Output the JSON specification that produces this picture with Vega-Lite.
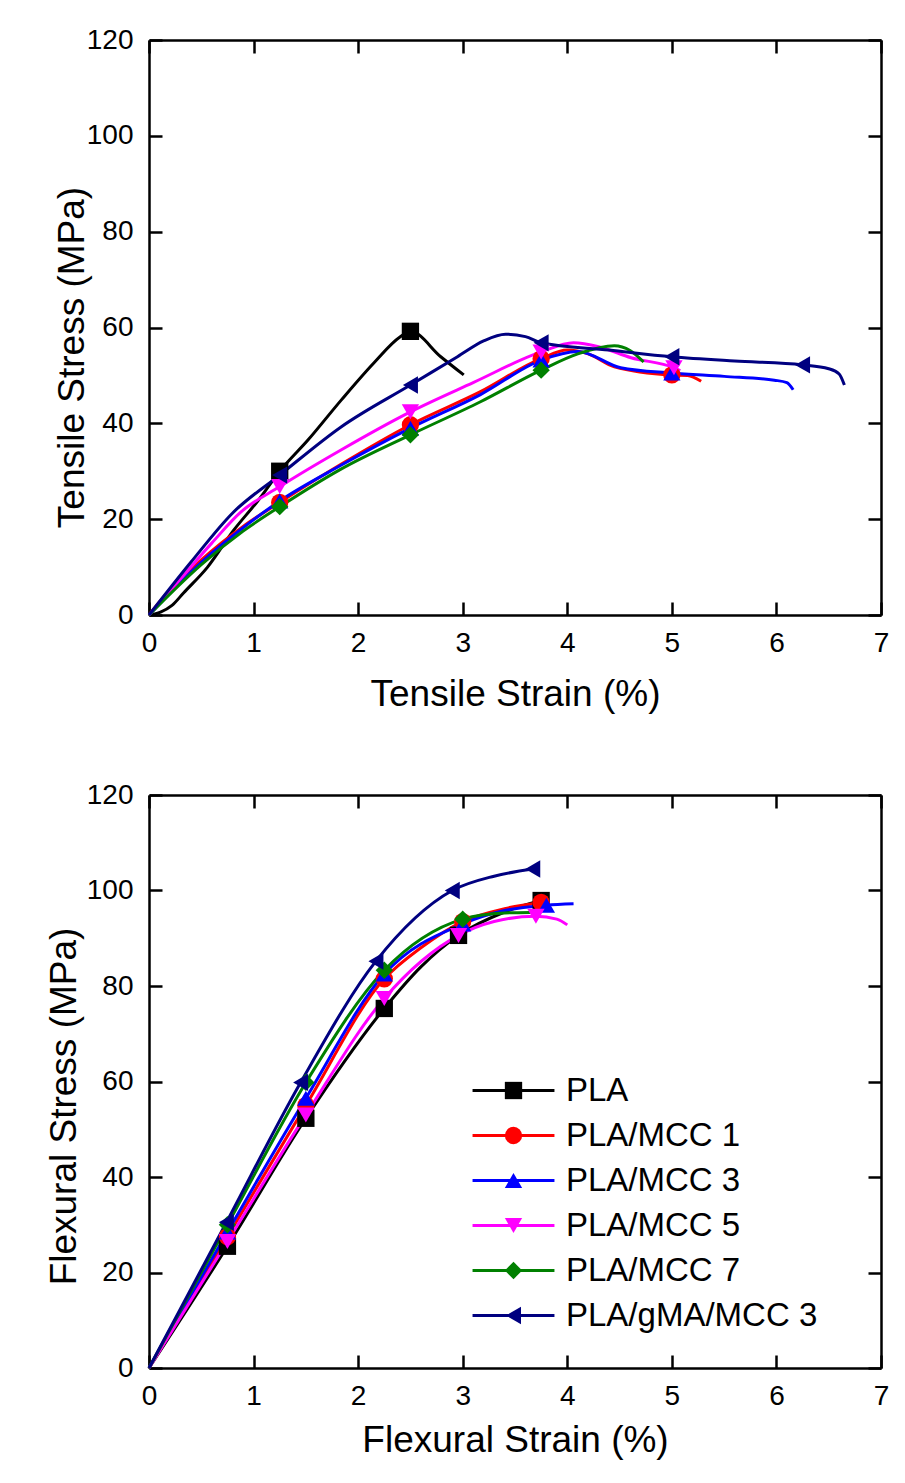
{
  "$schema": "https://vega.github.io/schema/vega-lite/v6.json",
  "background": "white",
  "padding": {"left": 45, "top": 26, "right": 5, "bottom": 5},
  "spacing": 180,
  "bounds": "flush",
  "datasets": {
    "d": [
      {"p":"T","s":"PLA","x":0,"y":0,"m":0},
      {"p":"T","s":"PLA","x":0.11,"y":0.6,"m":0},
      {"p":"T","s":"PLA","x":0.22,"y":2,"m":0},
      {"p":"T","s":"PLA","x":0.33,"y":4.6,"m":0},
      {"p":"T","s":"PLA","x":0.56,"y":10,"m":0},
      {"p":"T","s":"PLA","x":0.81,"y":17.7,"m":0},
      {"p":"T","s":"PLA","x":1.04,"y":23.8,"m":0},
      {"p":"T","s":"PLA","x":1.25,"y":30,"m":1},
      {"p":"T","s":"PLA","x":1.52,"y":36.5,"m":0},
      {"p":"T","s":"PLA","x":1.84,"y":44.9,"m":0},
      {"p":"T","s":"PLA","x":2.15,"y":52.6,"m":0},
      {"p":"T","s":"PLA","x":2.4,"y":58,"m":0},
      {"p":"T","s":"PLA","x":2.5,"y":59.2,"m":1},
      {"p":"T","s":"PLA","x":2.79,"y":53.9,"m":0},
      {"p":"T","s":"PLA","x":3.01,"y":50.1,"m":0},

      {"p":"T","s":"PLA/MCC 1","x":0,"y":0,"m":0},
      {"p":"T","s":"PLA/MCC 1","x":0.11,"y":3,"m":0},
      {"p":"T","s":"PLA/MCC 1","x":0.5,"y":11.5,"m":0},
      {"p":"T","s":"PLA/MCC 1","x":0.9,"y":18.5,"m":0},
      {"p":"T","s":"PLA/MCC 1","x":1.25,"y":23.5,"m":1},
      {"p":"T","s":"PLA/MCC 1","x":1.84,"y":31.5,"m":0},
      {"p":"T","s":"PLA/MCC 1","x":2.5,"y":39.7,"m":1},
      {"p":"T","s":"PLA/MCC 1","x":3.17,"y":46.6,"m":0},
      {"p":"T","s":"PLA/MCC 1","x":3.75,"y":53.5,"m":1},
      {"p":"T","s":"PLA/MCC 1","x":4.0,"y":55.3,"m":0},
      {"p":"T","s":"PLA/MCC 1","x":4.2,"y":54.5,"m":0},
      {"p":"T","s":"PLA/MCC 1","x":4.45,"y":51.8,"m":0},
      {"p":"T","s":"PLA/MCC 1","x":5.0,"y":50.1,"m":1},
      {"p":"T","s":"PLA/MCC 1","x":5.15,"y":50,"m":0},
      {"p":"T","s":"PLA/MCC 1","x":5.28,"y":48.8,"m":0},

      {"p":"T","s":"PLA/MCC 3","x":0,"y":0,"m":0},
      {"p":"T","s":"PLA/MCC 3","x":0.5,"y":11,"m":0},
      {"p":"T","s":"PLA/MCC 3","x":0.9,"y":18.2,"m":0},
      {"p":"T","s":"PLA/MCC 3","x":1.25,"y":23.8,"m":1},
      {"p":"T","s":"PLA/MCC 3","x":1.84,"y":31.3,"m":0},
      {"p":"T","s":"PLA/MCC 3","x":2.5,"y":39,"m":1},
      {"p":"T","s":"PLA/MCC 3","x":3.17,"y":46,"m":0},
      {"p":"T","s":"PLA/MCC 3","x":3.75,"y":53.2,"m":1},
      {"p":"T","s":"PLA/MCC 3","x":4.1,"y":55,"m":0},
      {"p":"T","s":"PLA/MCC 3","x":4.51,"y":51.6,"m":0},
      {"p":"T","s":"PLA/MCC 3","x":5.0,"y":50.5,"m":1},
      {"p":"T","s":"PLA/MCC 3","x":5.5,"y":49.8,"m":0},
      {"p":"T","s":"PLA/MCC 3","x":5.98,"y":49,"m":0},
      {"p":"T","s":"PLA/MCC 3","x":6.1,"y":48.5,"m":0},
      {"p":"T","s":"PLA/MCC 3","x":6.16,"y":47,"m":0},

      {"p":"T","s":"PLA/MCC 5","x":0,"y":0,"m":0},
      {"p":"T","s":"PLA/MCC 5","x":0.3,"y":7.5,"m":0},
      {"p":"T","s":"PLA/MCC 5","x":0.6,"y":15,"m":0},
      {"p":"T","s":"PLA/MCC 5","x":0.88,"y":21.5,"m":0},
      {"p":"T","s":"PLA/MCC 5","x":1.25,"y":26.8,"m":1},
      {"p":"T","s":"PLA/MCC 5","x":1.84,"y":34.5,"m":0},
      {"p":"T","s":"PLA/MCC 5","x":2.5,"y":42.4,"m":1},
      {"p":"T","s":"PLA/MCC 5","x":3.1,"y":48.5,"m":0},
      {"p":"T","s":"PLA/MCC 5","x":3.75,"y":54.9,"m":1},
      {"p":"T","s":"PLA/MCC 5","x":4.06,"y":56.8,"m":0},
      {"p":"T","s":"PLA/MCC 5","x":4.3,"y":56,"m":0},
      {"p":"T","s":"PLA/MCC 5","x":4.61,"y":53.7,"m":0},
      {"p":"T","s":"PLA/MCC 5","x":5.02,"y":51.6,"m":1},
      {"p":"T","s":"PLA/MCC 5","x":5.08,"y":51,"m":0},

      {"p":"T","s":"PLA/MCC 7","x":0,"y":0,"m":0},
      {"p":"T","s":"PLA/MCC 7","x":0.5,"y":10.5,"m":0},
      {"p":"T","s":"PLA/MCC 7","x":0.9,"y":17.5,"m":0},
      {"p":"T","s":"PLA/MCC 7","x":1.25,"y":22.6,"m":1},
      {"p":"T","s":"PLA/MCC 7","x":1.84,"y":30.5,"m":0},
      {"p":"T","s":"PLA/MCC 7","x":2.5,"y":37.6,"m":1},
      {"p":"T","s":"PLA/MCC 7","x":3.17,"y":44.5,"m":0},
      {"p":"T","s":"PLA/MCC 7","x":3.75,"y":51.1,"m":1},
      {"p":"T","s":"PLA/MCC 7","x":4.1,"y":54.5,"m":0},
      {"p":"T","s":"PLA/MCC 7","x":4.45,"y":56.2,"m":0},
      {"p":"T","s":"PLA/MCC 7","x":4.6,"y":55.2,"m":0},
      {"p":"T","s":"PLA/MCC 7","x":4.73,"y":52.8,"m":0},

      {"p":"T","s":"PLA/gMA/MCC 3","x":0,"y":0,"m":0},
      {"p":"T","s":"PLA/gMA/MCC 3","x":0.4,"y":11,"m":0},
      {"p":"T","s":"PLA/gMA/MCC 3","x":0.8,"y":21.3,"m":0},
      {"p":"T","s":"PLA/gMA/MCC 3","x":1.25,"y":29.2,"m":1},
      {"p":"T","s":"PLA/gMA/MCC 3","x":1.84,"y":39.3,"m":0},
      {"p":"T","s":"PLA/gMA/MCC 3","x":2.5,"y":48,"m":1},
      {"p":"T","s":"PLA/gMA/MCC 3","x":2.95,"y":53.9,"m":0},
      {"p":"T","s":"PLA/gMA/MCC 3","x":3.2,"y":57.2,"m":0},
      {"p":"T","s":"PLA/gMA/MCC 3","x":3.41,"y":58.6,"m":0},
      {"p":"T","s":"PLA/gMA/MCC 3","x":3.6,"y":58.1,"m":0},
      {"p":"T","s":"PLA/gMA/MCC 3","x":3.75,"y":56.8,"m":1},
      {"p":"T","s":"PLA/gMA/MCC 3","x":4.4,"y":55.3,"m":0},
      {"p":"T","s":"PLA/gMA/MCC 3","x":5.0,"y":53.9,"m":1},
      {"p":"T","s":"PLA/gMA/MCC 3","x":5.6,"y":53,"m":0},
      {"p":"T","s":"PLA/gMA/MCC 3","x":6.25,"y":52.2,"m":1},
      {"p":"T","s":"PLA/gMA/MCC 3","x":6.5,"y":51.4,"m":0},
      {"p":"T","s":"PLA/gMA/MCC 3","x":6.6,"y":50.3,"m":0},
      {"p":"T","s":"PLA/gMA/MCC 3","x":6.65,"y":48,"m":0},

      {"p":"F","s":"PLA","x":0,"y":0,"m":0},
      {"p":"F","s":"PLA","x":0.75,"y":25.5,"m":1},
      {"p":"F","s":"PLA","x":1.5,"y":52.3,"m":1},
      {"p":"F","s":"PLA","x":2.25,"y":75.3,"m":1},
      {"p":"F","s":"PLA","x":2.6,"y":84,"m":0},
      {"p":"F","s":"PLA","x":2.96,"y":90.6,"m":1},
      {"p":"F","s":"PLA","x":3.4,"y":95.5,"m":0},
      {"p":"F","s":"PLA","x":3.75,"y":97.9,"m":1},

      {"p":"F","s":"PLA/MCC 1","x":0,"y":0,"m":0},
      {"p":"F","s":"PLA/MCC 1","x":0.75,"y":27.5,"m":1},
      {"p":"F","s":"PLA/MCC 1","x":1.5,"y":55,"m":1},
      {"p":"F","s":"PLA/MCC 1","x":2.25,"y":81.5,"m":1},
      {"p":"F","s":"PLA/MCC 1","x":2.6,"y":88,"m":0},
      {"p":"F","s":"PLA/MCC 1","x":3.0,"y":93.5,"m":1},
      {"p":"F","s":"PLA/MCC 1","x":3.4,"y":96.2,"m":0},
      {"p":"F","s":"PLA/MCC 1","x":3.75,"y":97.5,"m":1},

      {"p":"F","s":"PLA/MCC 3","x":0,"y":0,"m":0},
      {"p":"F","s":"PLA/MCC 3","x":0.75,"y":28.5,"m":1},
      {"p":"F","s":"PLA/MCC 3","x":1.5,"y":56.5,"m":1},
      {"p":"F","s":"PLA/MCC 3","x":2.25,"y":82.5,"m":1},
      {"p":"F","s":"PLA/MCC 3","x":3.0,"y":93,"m":1},
      {"p":"F","s":"PLA/MCC 3","x":3.4,"y":95.8,"m":0},
      {"p":"F","s":"PLA/MCC 3","x":3.8,"y":96.9,"m":1},
      {"p":"F","s":"PLA/MCC 3","x":4.06,"y":97.2,"m":0},

      {"p":"F","s":"PLA/MCC 5","x":0,"y":0,"m":0},
      {"p":"F","s":"PLA/MCC 5","x":0.75,"y":26.5,"m":1},
      {"p":"F","s":"PLA/MCC 5","x":1.5,"y":53,"m":1},
      {"p":"F","s":"PLA/MCC 5","x":2.25,"y":77.4,"m":1},
      {"p":"F","s":"PLA/MCC 5","x":2.96,"y":90.6,"m":1},
      {"p":"F","s":"PLA/MCC 5","x":3.3,"y":93.5,"m":0},
      {"p":"F","s":"PLA/MCC 5","x":3.7,"y":94.6,"m":1},
      {"p":"F","s":"PLA/MCC 5","x":3.9,"y":94,"m":0},
      {"p":"F","s":"PLA/MCC 5","x":4.0,"y":92.8,"m":0},

      {"p":"F","s":"PLA/MCC 7","x":0,"y":0,"m":0},
      {"p":"F","s":"PLA/MCC 7","x":0.75,"y":30,"m":1},
      {"p":"F","s":"PLA/MCC 7","x":1.5,"y":59.8,"m":1},
      {"p":"F","s":"PLA/MCC 7","x":2.25,"y":83.3,"m":1},
      {"p":"F","s":"PLA/MCC 7","x":3.0,"y":94,"m":1},
      {"p":"F","s":"PLA/MCC 7","x":3.4,"y":95.3,"m":0},
      {"p":"F","s":"PLA/MCC 7","x":3.65,"y":95.4,"m":0},

      {"p":"F","s":"PLA/gMA/MCC 3","x":0,"y":0,"m":0},
      {"p":"F","s":"PLA/gMA/MCC 3","x":0.74,"y":30.5,"m":1},
      {"p":"F","s":"PLA/gMA/MCC 3","x":1.45,"y":59.8,"m":1},
      {"p":"F","s":"PLA/gMA/MCC 3","x":2.17,"y":85.2,"m":1},
      {"p":"F","s":"PLA/gMA/MCC 3","x":2.9,"y":100,"m":1},
      {"p":"F","s":"PLA/gMA/MCC 3","x":3.3,"y":103,"m":0},
      {"p":"F","s":"PLA/gMA/MCC 3","x":3.67,"y":104.5,"m":1}
    ]
  },
  "data": {"name": "d"},
  "resolve": {"scale": {"stroke": "independent", "fill": "independent", "shape": "independent"}},
  "vconcat": [
    {
      "width": 732,
      "height": 575,
      "layer": [
        {
          "transform": [{"filter": "datum.p == 'T'"}],
          "mark": {"type": "line", "interpolate": "monotone", "strokeWidth": 3},
          "encoding": {
            "x": {"field": "x", "type": "quantitative", "scale": {"domain": [0, 7], "nice": false},
                  "axis": {"orient": "bottom", "values": [0,1,2,3,4,5,6,7], "title": "Tensile Strain (%)", "titleY": 90, "titleBaseline": "alphabetic", "labelPadding": 27}},
            "y": {"field": "y", "type": "quantitative", "scale": {"domain": [0, 120], "nice": false},
                  "axis": {"orient": "left", "values": [0,20,40,60,80,100,120], "title": "Tensile Stress (MPa)", "titleX": -66, "titleY": 317, "titleBaseline": "alphabetic", "titleAngle": -90, "labelPadding": 29}},
            "stroke": {"field": "s", "type": "nominal",
                       "scale": {"range": ["#000000","#ff0000","#0000ff","#ff00ff","#008000","#000080"]},
                       "legend": null}
          }
        },
        {
          "transform": [{"filter": "datum.p == 'T' && datum.m == 1"}],
          "mark": {"type": "point", "filled": true, "size": 300, "opacity": 1, "strokeWidth": 0},
          "encoding": {
            "x": {"field": "x", "type": "quantitative", "axis": {"orient": "top", "values": [0,1,2,3,4,5,6,7], "labels": false, "title": null}},
            "y": {"field": "y", "type": "quantitative", "axis": {"orient": "right", "values": [0,20,40,60,80,100,120], "labels": false, "title": null}},
            "fill": {"field": "s", "type": "nominal",
                     "scale": {"domain": ["PLA","PLA/MCC 1","PLA/MCC 3","PLA/MCC 5","PLA/MCC 7","PLA/gMA/MCC 3"], "range": ["#000000","#ff0000","#0000ff","#ff00ff","#008000","#000080"]},
                     "legend": null},
            "shape": {"field": "s", "type": "nominal",
                      "scale": {"domain": ["PLA","PLA/MCC 1","PLA/MCC 3","PLA/MCC 5","PLA/MCC 7","PLA/gMA/MCC 3"], "range": ["square","circle","triangle-up","triangle-down","diamond","triangle-left"]},
                      "legend": null}
          }
        }
      ],
      "resolve": {"axis": {"x": "independent", "y": "independent"}}
    },
    {
      "width": 732,
      "height": 573,
      "layer": [
        {
          "transform": [{"filter": "datum.p == 'F'"}],
          "mark": {"type": "line", "interpolate": "monotone", "strokeWidth": 3},
          "encoding": {
            "x": {"field": "x", "type": "quantitative", "scale": {"domain": [0, 7], "nice": false},
                  "axis": {"orient": "bottom", "values": [0,1,2,3,4,5,6,7], "title": "Flexural Strain (%)", "titleY": 83, "titleBaseline": "alphabetic", "labelPadding": 27}},
            "y": {"field": "y", "type": "quantitative", "scale": {"domain": [0, 120], "nice": false},
                  "axis": {"orient": "left", "values": [0,20,40,60,80,100,120], "title": "Flexural Stress (MPa)", "titleX": -74, "titleY": 311, "titleBaseline": "alphabetic", "titleAngle": -90, "labelPadding": 29}},
            "stroke": {"field": "s", "type": "nominal",
                       "scale": {"range": ["#000000","#ff0000","#0000ff","#ff00ff","#008000","#000080"]},
                       "legend": {"orient": "none", "legendX": 348, "legendY": 279, "title": null, "symbolType": "M-6.3,0H6.3", "symbolSize": 169, "symbolStrokeWidth": 3, "labelFont": "Liberation Sans", "labelFontSize": 33, "labelColor": "black", "labelOffset": 36, "rowPadding": 11, "padding": 0, "labelLimit": 400}}
          }
        },
        {
          "transform": [{"filter": "datum.p == 'F' && datum.m == 1"}],
          "mark": {"type": "point", "filled": true, "size": 300, "opacity": 1, "strokeWidth": 0},
          "encoding": {
            "x": {"field": "x", "type": "quantitative", "axis": {"orient": "top", "values": [0,1,2,3,4,5,6,7], "labels": false, "title": null}},
            "y": {"field": "y", "type": "quantitative", "axis": {"orient": "right", "values": [0,20,40,60,80,100,120], "labels": false, "title": null}},
            "fill": {"field": "s", "type": "nominal",
                     "scale": {"domain": ["PLA","PLA/MCC 1","PLA/MCC 3","PLA/MCC 5","PLA/MCC 7","PLA/gMA/MCC 3"], "range": ["#000000","#ff0000","#0000ff","#ff00ff","#008000","#000080"]},
                     "legend": {"orient": "none", "legendX": 348, "legendY": 279, "title": null, "symbolSize": 300, "symbolStrokeWidth": 0, "symbolOpacity": 1, "labelFont": "Liberation Sans", "labelFontSize": 33, "labelOpacity": 0, "labelOffset": 36, "rowPadding": 11, "padding": 0, "labelLimit": 400}},
            "shape": {"field": "s", "type": "nominal",
                      "scale": {"domain": ["PLA","PLA/MCC 1","PLA/MCC 3","PLA/MCC 5","PLA/MCC 7","PLA/gMA/MCC 3"], "range": ["square","circle","triangle-up","triangle-down","diamond","triangle-left"]},
                      "legend": {"orient": "none", "legendX": 348, "legendY": 279, "title": null, "symbolSize": 300, "symbolStrokeWidth": 0, "symbolOpacity": 1, "labelFont": "Liberation Sans", "labelFontSize": 33, "labelOpacity": 0, "labelOffset": 36, "rowPadding": 11, "padding": 0, "labelLimit": 400}}
          }
        }
      ],
      "resolve": {"axis": {"x": "independent", "y": "independent"}}
    }
  ],
  "config": {
    "view": {"stroke": null},
    "axis": {
      "grid": false,
      "domainColor": "black", "domainWidth": 2.5,
      "tickColor": "black", "tickWidth": 2.5, "tickSize": -13,
      "labelFont": "Liberation Sans", "labelFontSize": 28, "labelColor": "black",
      "labelFlush": false, "labelOverlap": false,
      "titleFont": "Liberation Sans", "titleFontSize": 37, "titleFontWeight": "normal", "titleColor": "black"
    }
  }
}
